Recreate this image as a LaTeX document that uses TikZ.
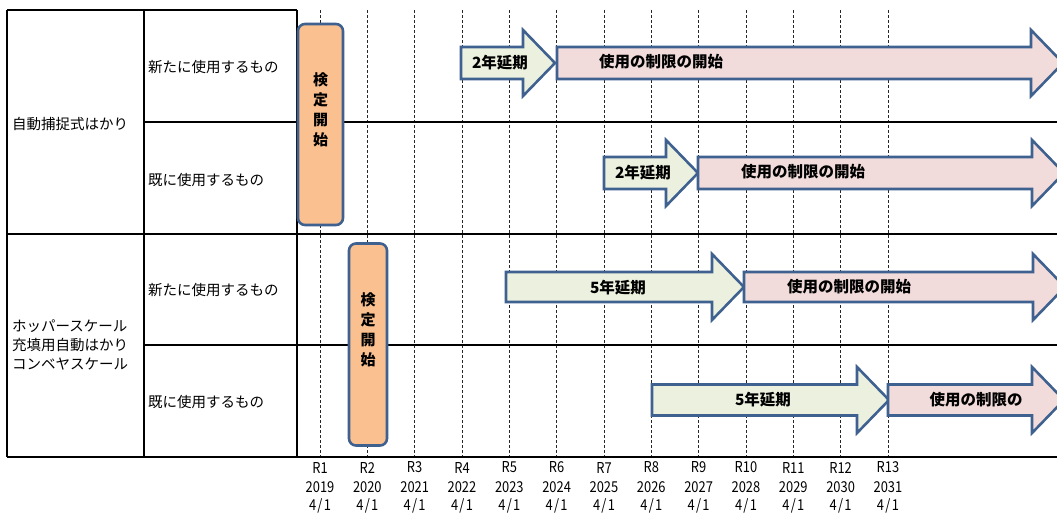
\documentclass[tikz,border=0pt]{standalone}
\usepackage{graphicx}
\usepackage{fontspec}
\setmainfont{Noto Sans CJK JP}
\usetikzlibrary{calc}
\definecolor{edge}{HTML}{3F6190}
\definecolor{orangefill}{HTML}{FAC090}
\definecolor{greenfill}{HTML}{EBF1DE}
\definecolor{pinkfill}{HTML}{F2DCDB}
\tikzset{
 gridline/.style={line width=1.8pt, black},
 yearline/.style={dash pattern=on 3pt off 2pt, line width=0.7pt, black!85},
 arrowshape/.style={draw=edge, line width=2.6pt, line join=miter},
 kentei/.style={draw=edge, fill=orangefill, line width=2.6pt, rounded corners=7pt, inner sep=0},
 kenteitext/.style={font=\bfseries\fontsize{15}{20}\selectfont, align=center, inner sep=0},
 lbl/.style={font=\fontsize{14.5}{19}\selectfont, anchor=west, inner sep=0, align=left},
 arrtxt/.style={font=\bfseries\fontsize{15.5}{18}\selectfont, inner sep=0},
 axislbl/.style={inner sep=0, font=\fontsize{15}{17}\selectfont}
}
\newcommand\axt[1]{\scalebox{0.86}[1]{#1}}
\newcommand\harr[5]{%
 \draw[arrowshape, fill=#1] (#2,#4-#5) -- (#3,#4-#5) -- (#3,#4-33) -- (#3+32,#4) -- (#3,#4+33) -- (#3,#4+#5) -- (#2,#4+#5) -- cycle;}
\begin{document}
\begin{tikzpicture}[x=1pt,y=-1pt]
\useasboundingbox (0,0) rectangle (1057,514);
\clip (0,0) rectangle (1057,514);
% year dashed lines and axis labels
\foreach \i in {1,...,13}{
 \pgfmathsetmacro\xx{320+47.33*(\i-1)}
 \pgfmathtruncatemacro\yr{2018+\i}
 \draw[yearline] (\xx,10) -- (\xx,457);
 \node[axislbl] (axr\i) at (\xx,467.5) {\axt{R\i}};
 \node[axislbl] (axy\i) at (\xx,487) {\axt{\yr}};
 \node[axislbl] (axd\i) at (\xx,506) {\axt{4\kern1.5pt/\kern1.5pt1}};
}
% table grid
\draw[gridline] (7,10) -- (297,10);
\draw[gridline] (7,10) -- (7,457);
\draw[gridline] (144,10) -- (144,457);
\draw[gridline] (297,10) -- (297,457);
\draw[line width=1.5pt] (144,122) -- (1057,122);
\draw[gridline] (7,234) -- (1057,234);
\draw[line width=1.5pt] (144,345) -- (1057,345);
\draw[gridline] (7,457) -- (1057,457);
% labels
\node[lbl] (cat1) at (12,124) {自動捕捉式はかり};
\node[lbl] (cat2) at (12,345) {ホッパースケール\\充填用自動はかり\\コンベヤスケール};
\node[lbl] (r1) at (148,67) {新たに使用するもの};
\node[lbl] (r2) at (148,180) {既に使用するもの};
\node[lbl] (r3) at (148,290) {新たに使用するもの};
\node[lbl] (r4) at (148,402) {既に使用するもの};
% arrows
\harr{greenfill}{461}{523}{63}{16}
\harr{pinkfill}{557}{1031}{63}{16}
\harr{greenfill}{604}{666}{173}{16}
\harr{pinkfill}{698}{1032}{173}{16}
\harr{greenfill}{506}{712}{287}{15}
\harr{pinkfill}{744}{1033}{287}{15}
\harr{greenfill}{652}{857}{400}{15.5}
\harr{pinkfill}{888}{1032}{400}{15.5}
\node[arrtxt] (t1a) at (500,63) {2年延期};
\node[arrtxt] (t1b) at (661,62) {使用の制限の開始};
\node[arrtxt] (t2a) at (643,173) {2年延期};
\node[arrtxt] (t2b) at (803,172) {使用の制限の開始};
\node[arrtxt] (t3a) at (618,288) {5年延期};
\node[arrtxt] (t3b) at (849,287) {使用の制限の開始};
\node[arrtxt] (t4a) at (763,400) {5年延期};
\node[arrtxt] (t4b) at (976,400) {使用の制限の};
% kentei boxes
\node[kentei, minimum width=45, minimum height=201] (k1) at (320.5,124.5) {};
\node[kenteitext] (k1t) at (320.5,110) {検\\定\\開\\始};
\node[kentei, minimum width=38, minimum height=202] (k2) at (368,344.5) {};
\node[kenteitext] (k2t) at (368,330) {検\\定\\開\\始};
\end{tikzpicture}
\end{document}
